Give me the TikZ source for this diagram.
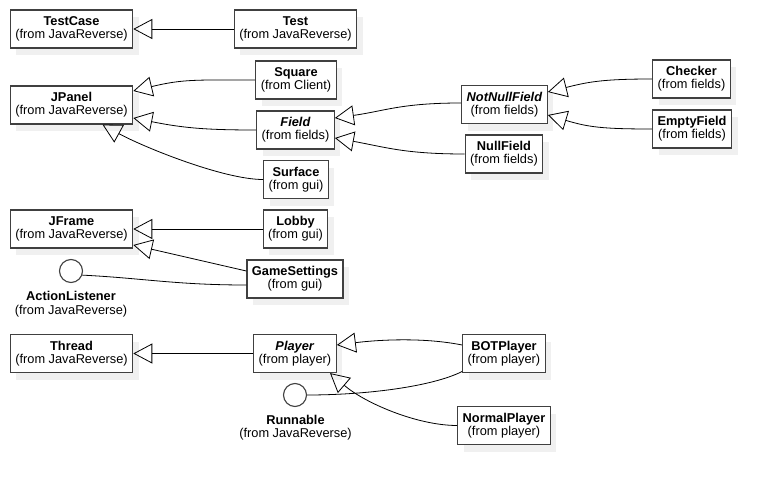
\documentclass[tikz,border=0pt]{standalone}
\usepackage{fontspec}
\setmainfont{Liberation Sans}
\usetikzlibrary{arrows.meta,shadows}

\tikzset{
  umlclass/.style={draw=black!75, line width=1.2pt, fill=white, align=center,
    inner xsep=5pt, inner ysep=0pt, minimum height=38pt,
    font=\fontsize{12.8}{12.8}\selectfont,
    drop shadow={shadow xshift=6pt, shadow yshift=-7pt, fill=black!6, opacity=1}},
  umliface/.style={circle, draw=black!75, line width=1.1pt, fill=white,
    minimum size=23pt, inner sep=0pt},
  ifacelabel/.style={align=center, inner sep=0pt, font=\fontsize{12.8}{13.5}\selectfont},
  extends/.style={-{Triangle[open,length=19pt,width=20pt]}, line width=0.8pt},
  realizes/.style={line width=0.8pt}
}

\begin{document}
\begin{tikzpicture}[x=1pt,y=-1pt]
	\useasboundingbox (0,0) rectangle (771,487);
	
	%Classes
	\node[umlclass] (testcase) at (71.5,29) {\textbf{TestCase}\\(from JavaReverse)};
	\node[umlclass] (test) at (295.5,29) {\textbf{Test}\\(from JavaReverse)};
	\node[umlclass] (jpanel) at (71.5,105) {\textbf{JPanel}\\(from JavaReverse)};
	\node[umlclass] (square) at (296,80) {\textbf{Square}\\(from Client)};
	\node[umlclass] (field) at (295.5,130) {\textbf{\textit{Field}}\\(from fields)};
	\node[umlclass] (surface) at (296,179.5) {\textbf{Surface}\\(from gui)};
	\node[umlclass] (notnull) at (504.5,104.5) {\textbf{\textit{NotNullField}}\\(from fields)};
	\node[umlclass] (nullfield) at (504,154) {\textbf{NullField}\\(from fields)};
	\node[umlclass] (checker) at (691.5,79) {\textbf{Checker}\\(from fields)};
	\node[umlclass] (empty) at (692,129) {\textbf{EmptyField}\\(from fields)};
	\node[umlclass] (jframe) at (71.5,229) {\textbf{JFrame}\\(from JavaReverse)};
	\node[umlclass] (lobby) at (295.5,229) {\textbf{Lobby}\\(from gui)};
	\node[umlclass] (settings) at (295,279) {\textbf{GameSettings}\\(from gui)};
	\node[umlclass] (thread) at (71.5,353.5) {\textbf{Thread}\\(from JavaReverse)};
	\node[umlclass] (player) at (295,353.5) {\textbf{\textit{Player}}\\(from player)};
	\node[umlclass] (bot) at (504,353.5) {\textbf{BOTPlayer}\\(from player)};
	\node[umlclass] (normal) at (504,425.5) {\textbf{NormalPlayer}\\(from player)};
	
	%Interfaces
	\node[umliface] (listener) at (71,271) {};
	\node[ifacelabel, anchor=north] (listenerlbl) at (71,291.5) {\textbf{ActionListener}\\(from JavaReverse)};
	\node[umliface] (runnable) at (295,395) {};
	\node[ifacelabel, anchor=north] (runnablelbl) at (295.5,415) {\textbf{Runnable}\\(from JavaReverse)};
	
	%Lines
	\draw[extends] (test) -- (testcase);
	\draw[extends] (square.west) .. controls +(-60,0) and +(50,-12) .. ([yshift=14pt]jpanel.east);%square
	\draw[extends] (field.west) .. controls +(-50,0) and +(50,10) .. ([yshift=-13pt]jpanel.east);%field
	\draw[extends] (surface.west) .. controls +(-40,0) and +(40,22) .. ([xshift=31pt]jpanel.south);%surface
	\draw[extends] ([yshift=1.5pt]notnull.west) .. controls +(-60,0) and +(50,-7) .. ([yshift=12pt]field.east);%notnull
	\draw[extends] (nullfield.west) .. controls +(-60,0) and +(50,9) .. ([yshift=-8pt]field.east);%nullfield
	\draw[extends] (checker.west) .. controls +(-50,0) and +(40,-10) .. ([yshift=12.5pt]notnull.east);%checker
	\draw[extends] (empty.west) .. controls +(-50,0) and +(40,12) .. ([yshift=-10.5pt]notnull.east);%empty
	\draw[extends] (lobby) -- (jframe);
	\draw[extends] ([yshift=8pt]settings.west) -- ([yshift=-16pt]jframe.east);%settings
	\draw[realizes] ([yshift=-6pt]settings.west) .. controls +(-70,0) and +(60,3) .. (listener.-20);
	\draw[extends] (player) -- (thread);
	\draw[extends] ([yshift=8.5pt]bot.west) .. controls +(-40,-8) and +(40,-5) .. ([yshift=8.5pt]player.east);%bot
	\draw[extends] (normal.west) .. controls +(-40,0) and +(35,30) .. ([xshift=35pt]player.south);%normal
	\draw[realizes] ([yshift=-18pt]bot.west) .. controls +(-30,15) and +(60,0) .. (runnable.east);
\end{tikzpicture}
\end{document}
